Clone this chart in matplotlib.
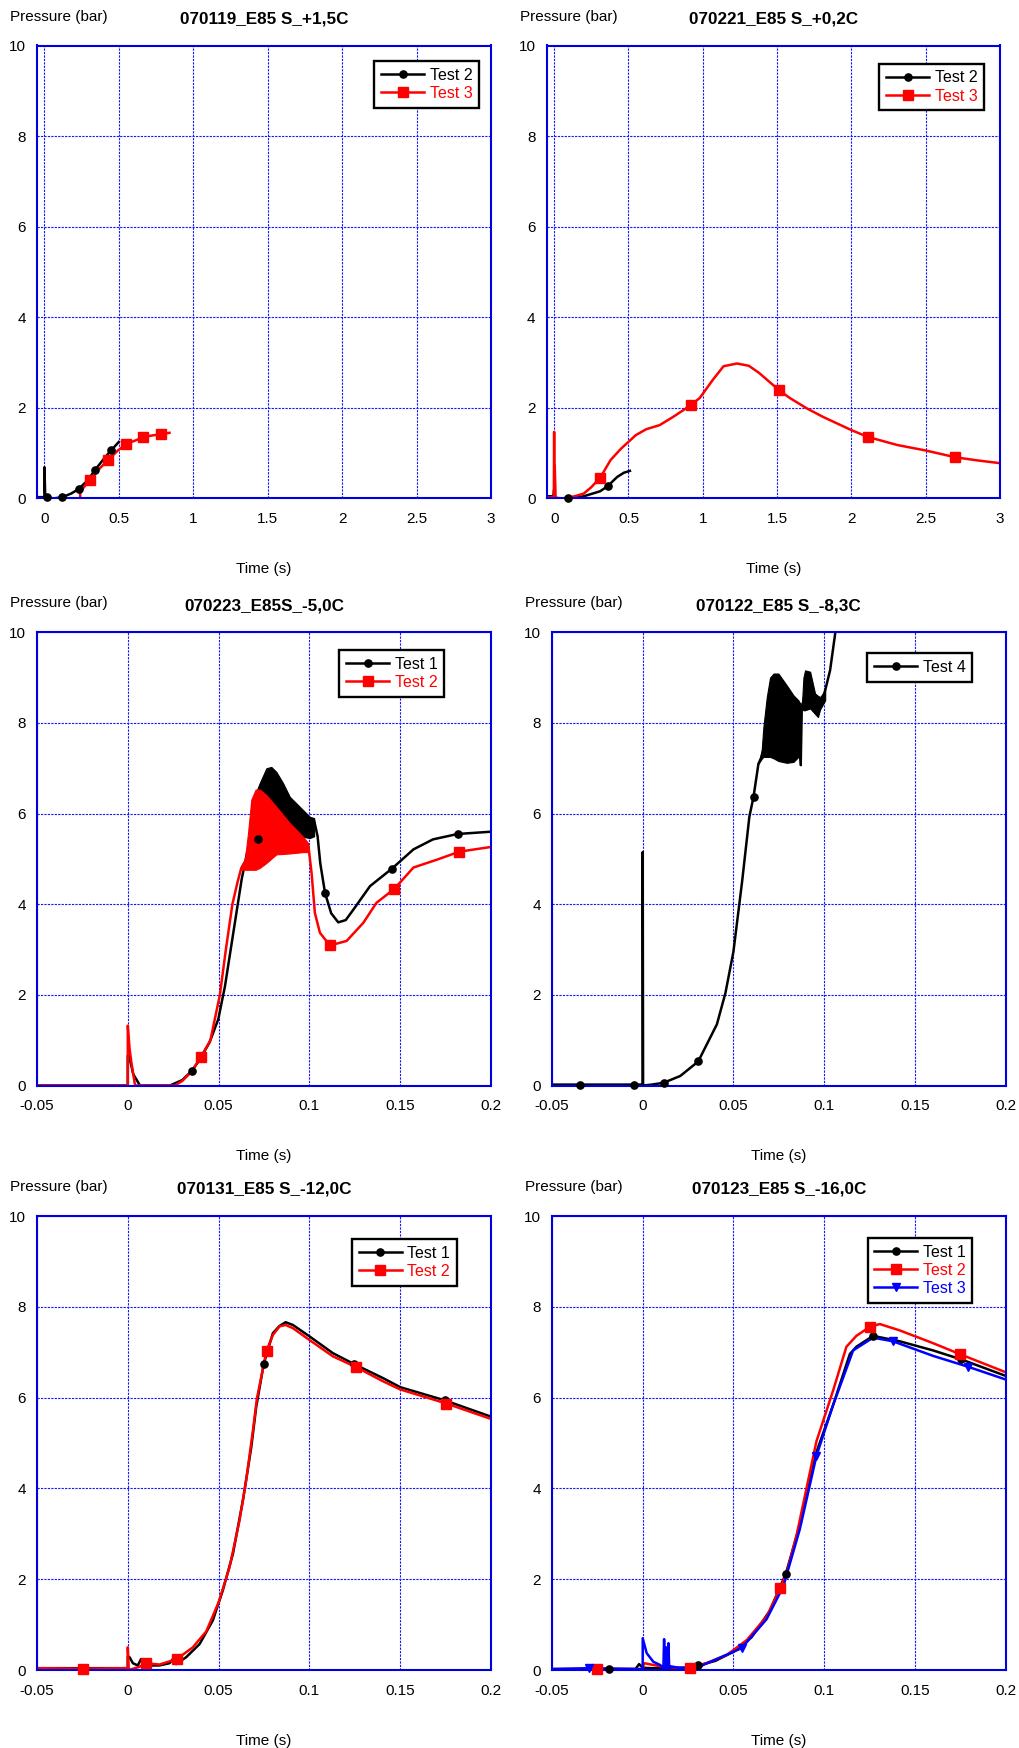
import matplotlib
matplotlib.use('Agg')
import matplotlib.pyplot as plt
from matplotlib.lines import Line2D

plt.rcParams['font.family'] = ['Liberation Sans', 'DejaVu Sans']

BLACK = '#000000'
RED = '#ff0000'
BLUE = '#0000ff'

# ---- 070119_E85 S_+1,5C ----
t119_2 = [-0.05, 0.0, 0.0, 0.005, 0.015, 0.06, 0.12, 0.18, 0.23, 0.29, 0.34, 0.40, 0.45, 0.50]
p119_2 = [0.03, 0.03, 0.69, 0.08, 0.04, 0.0, 0.03, 0.11, 0.21, 0.40, 0.63, 0.88, 1.07, 1.25]
m119_2 = [0.015, 0.12, 0.23, 0.34, 0.45]
t119_3 = [0.24, 0.24, 0.306, 0.37, 0.428, 0.49, 0.547, 0.61, 0.663, 0.72, 0.785, 0.84]
p119_3 = [0.0, 0.15, 0.41, 0.66, 0.85, 1.05, 1.2, 1.28, 1.35, 1.39, 1.42, 1.45]
m119_3 = [0.306, 0.428, 0.547, 0.663, 0.785]

# ---- 070221_E85 S_+0,2C ----
t221_2 = [-0.05, -0.005, 0.0, 0.002, 0.01, 0.05, 0.094, 0.15, 0.2, 0.25, 0.31, 0.363, 0.40, 0.426, 0.47, 0.51]
p221_2 = [0.05, 0.05, 0.2, 0.03, 0.0, 0.0, 0.0, 0.02, 0.05, 0.1, 0.16, 0.28, 0.4, 0.48, 0.57, 0.61]
m221_2 = [0.094, 0.363]
t221_3 = [-0.05, -0.002, 0.0, 0.002, 0.004, 0.01, 0.05, 0.1, 0.15, 0.2, 0.25, 0.31, 0.38, 0.45, 0.55,
          0.62, 0.71, 0.8, 0.92, 0.98, 1.07, 1.14, 1.23, 1.31, 1.38, 1.51, 1.585, 1.7, 1.81, 2.0,
          2.11, 2.31, 2.5, 2.7, 2.85, 3.0]
p221_3 = [0.03, 0.03, 1.47, 0.1, 0.72, 0.02, 0.0, 0.02, 0.06, 0.11, 0.25, 0.46, 0.85, 1.1, 1.4,
          1.53, 1.62, 1.8, 2.06, 2.22, 2.63, 2.92, 2.98, 2.93, 2.77, 2.40, 2.22, 1.99, 1.80, 1.51,
          1.36, 1.18, 1.06, 0.91, 0.84, 0.78]
m221_3 = [0.31, 0.92, 1.51, 2.11, 2.7]

# ---- 070223_E85S_-5,0C ----
t223_1 = [-0.05, 0.0, 0.0, 0.0007, 0.003, 0.0067, 0.015, 0.0232, 0.03, 0.0352, 0.0396, 0.045, 0.0498,
          0.0535, 0.0581, 0.0627, 0.066, 0.0719, 0.08, 0.09, 0.1, 0.1026, 0.1045, 0.106, 0.1086,
          0.112, 0.1159, 0.12, 0.1242, 0.1334, 0.1453, 0.1573, 0.168, 0.1816, 0.2]
p223_1 = [0.0, 0.0, 0.66, 0.66, 0.25, 0.0, 0.0, 0.0, 0.12, 0.32, 0.57, 0.95, 1.46,
          2.19, 3.37, 4.55, 5.2, 5.43, 5.6, 5.6, 5.6, 5.85, 5.5, 4.9, 4.25,
          3.8, 3.6, 3.65, 3.88, 4.40, 4.78, 5.21, 5.43, 5.55, 5.60]
m223_1 = [0.0352, 0.0719, 0.1086, 0.1453, 0.1816]
# pressure oscillation envelope, Test 1
tb223_1 = [0.068, 0.0726, 0.0763, 0.079, 0.0818, 0.0855, 0.0892, 0.0947, 0.1002, 0.1026]
hi223_1 = [6.2, 6.67, 7.0, 7.03, 6.92, 6.67, 6.37, 6.15, 5.93, 5.9]
lo223_1 = [5.3, 5.4, 5.45, 5.5, 5.5, 5.5, 5.5, 5.5, 5.46, 5.5]

t223_2 = [-0.05, 0.0, 0.0, 0.001, 0.002, 0.004, 0.015, 0.0259, 0.03, 0.035, 0.0403, 0.0455, 0.0507,
          0.054, 0.0576, 0.0605, 0.0625, 0.07, 0.08, 0.09, 0.0994, 0.1012, 0.103, 0.1058, 0.1113,
          0.1205, 0.1297, 0.1369, 0.1468, 0.1573, 0.17, 0.1826, 0.1994]
p223_2 = [0.0, 0.0, 1.32, 0.8, 0.5, 0.0, 0.0, 0.0, 0.1, 0.3, 0.63, 1.0, 2.0,
          3.0, 4.0, 4.5, 4.8, 5.3, 5.4, 5.3, 5.3, 4.69, 3.81, 3.37, 3.09,
          3.19, 3.59, 4.03, 4.34, 4.81, 4.98, 5.16, 5.26]
m223_2 = [0.0403, 0.1113, 0.1468, 0.1826]
# pressure oscillation envelope, Test 2
tb223_2 = [0.0625, 0.0645, 0.0662, 0.068, 0.0704, 0.0726, 0.0763, 0.0818, 0.0892, 0.0965, 0.0993]
hi223_2 = [4.85, 5.0, 5.57, 6.31, 6.53, 6.53, 6.41, 6.15, 5.79, 5.49, 5.35]
lo223_2 = [4.76, 4.76, 4.76, 4.76, 4.76, 4.8, 4.91, 5.1, 5.12, 5.15, 5.15]

# ---- 070122_E85 S_-8,3C ----
t122_4 = [-0.05, -0.0348, -0.0047, 0.0, 0.0, 0.0002, 0.005, 0.0115, 0.0207, 0.0306, 0.0409, 0.0456,
          0.05, 0.0548, 0.0588, 0.0611, 0.0638, 0.0656, 0.07, 0.08, 0.086, 0.0871, 0.0877, 0.09,
          0.095, 0.0978, 0.1006, 0.1033, 0.1061, 0.108]
p122_4 = [0.02, 0.02, 0.02, 0.02, 5.15, 0.0, 0.02, 0.06, 0.21, 0.53, 1.35, 2.04,
          2.95, 4.5, 5.93, 6.37, 7.1, 7.25, 8.0, 8.0, 7.8, 7.07, 8.35, 8.7,
          8.4, 8.35, 8.72, 9.16, 9.97, 10.6]
m122_4 = [-0.0348, -0.0047, 0.0115, 0.0306, 0.0611]
tb122_a = [0.0638, 0.0656, 0.0665, 0.0684, 0.0702, 0.0721, 0.0748, 0.0794, 0.0831, 0.0858, 0.0868, 0.0871]
hi122_a = [7.1, 7.4, 7.9, 8.57, 9.0, 9.09, 9.09, 8.83, 8.61, 8.5, 8.43, 8.43]
lo122_a = [7.1, 7.21, 7.25, 7.25, 7.25, 7.22, 7.16, 7.12, 7.14, 7.25, 7.2, 7.07]
tb122_b = [0.0877, 0.0886, 0.0895, 0.0923, 0.095, 0.0966, 0.0978, 0.1006]
hi122_b = [8.35, 9.0, 9.16, 9.13, 8.65, 8.6, 8.57, 8.72]
lo122_b = [8.3, 8.28, 8.28, 8.32, 8.2, 8.13, 8.3, 8.5]

# ---- 070131_E85 S_-12,0C ----
t131_1 = [-0.05, -0.025, 0.0, 0.0, 0.001, 0.0028, 0.0055, 0.0073, 0.0101, 0.0174, 0.023, 0.0248,
          0.0266, 0.0321, 0.0395, 0.0468, 0.0523, 0.0579, 0.0634, 0.068, 0.0707, 0.0749, 0.0799,
          0.0836, 0.0869, 0.0909, 0.1, 0.1129, 0.1245, 0.1405, 0.15, 0.1745, 0.2]
p131_1 = [0.04, 0.04, 0.04, 0.3, 0.28, 0.15, 0.1, 0.24, 0.1, 0.1, 0.15, 0.24,
          0.13, 0.28, 0.57, 1.09, 1.75, 2.56, 3.74, 4.91, 5.79, 6.75, 7.42,
          7.58, 7.66, 7.60, 7.35, 6.98, 6.74, 6.43, 6.23, 5.94, 5.58]
m131_1 = [-0.025, 0.0749, 0.1245, 0.1745]
t131_2 = [-0.05, -0.0248, 0.0, 0.0, 0.0005, 0.0064, 0.0101, 0.0174, 0.027, 0.0358, 0.0432, 0.05,
          0.056, 0.0615, 0.0652, 0.0689, 0.0711, 0.0764, 0.0799, 0.0836, 0.0869, 0.0909, 0.1,
          0.1129, 0.1258, 0.1405, 0.15, 0.1754, 0.2]
p131_2 = [0.04, 0.03, 0.04, 0.5, 0.0, 0.07, 0.15, 0.12, 0.24, 0.5, 0.85, 1.49,
          2.26, 3.29, 4.18, 5.28, 5.98, 7.03, 7.38, 7.57, 7.6, 7.53, 7.27,
          6.91, 6.67, 6.36, 6.18, 5.87, 5.53]
m131_2 = [-0.0248, 0.0101, 0.027, 0.0764, 0.1258, 0.1754]

# ---- 070123_E85 S_-16,0C ----
t123_1 = [-0.05, -0.0184, -0.004, -0.002, 0.0, 0.005, 0.015, 0.025, 0.0307, 0.04, 0.05, 0.06, 0.07,
          0.0789, 0.0866, 0.0958, 0.105, 0.1142, 0.1178, 0.127, 0.1417, 0.16, 0.1757, 0.2]
p123_1 = [0.02, 0.02, 0.02, 0.13, 0.05, 0.04, 0.04, 0.05, 0.1, 0.2, 0.4, 0.72, 1.3,
          2.12, 3.2, 4.8, 5.84, 6.96, 7.12, 7.36, 7.24, 7.04, 6.84, 6.48]
m123_1 = [-0.0184, 0.0307, 0.0789, 0.127, 0.1757]
t123_2 = [-0.05, -0.025, 0.0, 0.0007, 0.0114, 0.02, 0.0261, 0.035, 0.0463, 0.0574, 0.0684, 0.0757,
          0.0794, 0.085, 0.0958, 0.105, 0.1123, 0.1178, 0.1252, 0.1307, 0.1417, 0.16, 0.1747, 0.2]
p123_2 = [0.02, 0.02, 0.02, 0.15, 0.07, 0.05, 0.04, 0.15, 0.33, 0.66, 1.18, 1.80,
          2.13, 3.0, 5.04, 6.16, 7.12, 7.36, 7.56, 7.62, 7.48, 7.2, 6.96, 6.56]
m123_2 = [-0.025, 0.0261, 0.0757, 0.1252, 0.1747]
t123_3 = [-0.05, -0.0294, 0.0, 0.0, 0.0022, 0.0059, 0.0096, 0.0114, 0.0118, 0.0122, 0.0128, 0.0134,
          0.0142, 0.0146, 0.0155, 0.02, 0.025, 0.0316, 0.0545, 0.0683, 0.0775, 0.0866, 0.0958,
          0.105, 0.116, 0.127, 0.138, 0.16, 0.1793, 0.2]
p123_3 = [0.02, 0.04, 0.02, 0.70, 0.37, 0.18, 0.11, 0.05, 0.68, 0.05, 0.5, 0.05,
          0.59, 0.05, 0.08, 0.05, 0.05, 0.08, 0.48, 1.12, 1.84, 3.1, 4.72,
          5.84, 7.04, 7.32, 7.24, 6.92, 6.68, 6.4]
m123_3 = [-0.0294, 0.0545, 0.0958, 0.138, 0.1793]

long_ticks = [0, 0.5, 1, 1.5, 2, 2.5, 3]
long_labels = ['0', '0.5', '1', '1.5', '2', '2.5', '3']
short_ticks = [-0.05, 0, 0.05, 0.1, 0.15, 0.2]
short_labels = ['-0.05', '0', '0.05', '0.1', '0.15', '0.2']
y_ticks = [0, 2, 4, 6, 8, 10]
y_labels = ['0', '2', '4', '6', '8', '10']

MARKERS = {BLACK: ('o', 5.2), RED: ('s', 6.5), BLUE: ('v', 5.8)}
LW = 1.8

W, H = 1019, 1748
fig = plt.figure(figsize=(W / 100, H / 100), dpi=100)


def make_axes(x0, x1, y0, y1):
    return fig.add_axes([x0 / W, 1 - y1 / H, (x1 - x0) / W, (y1 - y0) / H])


def setup(ax, title, xlim, ticks, labels):
    ax.set_xlim(*xlim)
    ax.set_ylim(0, 10)
    ax.set_xticks(ticks, labels)
    ax.set_yticks(y_ticks, y_labels)
    ax.tick_params(length=0, labelsize=11)
    ax.tick_params(axis='x', pad=10)
    ax.tick_params(axis='y', pad=8)
    ax.grid(True, color='#1414ff', lw=0.8, dashes=(2.0, 1.1))
    for sp in ax.spines.values():
        sp.set_color('#0000e0')
        sp.set_linewidth(1.5)
    ax.text(0.5, 1.049, title, transform=ax.transAxes, ha='center', va='baseline',
            fontsize=12.3, fontweight='bold')
    ax.text(-0.06, 1.055, 'Pressure (bar)', transform=ax.transAxes, ha='left',
            va='baseline', fontsize=11)
    ax.text(0.5, -0.165, 'Time (s)', transform=ax.transAxes, ha='center',
            va='baseline', fontsize=11)


def series(ax, t, p, marks, color, label):
    ax.plot(t, p, color=color, lw=LW, zorder=2)
    idx = [t.index(m) for m in marks]
    mk, ms = MARKERS[color]
    ax.plot([t[i] for i in idx], [p[i] for i in idx], ls='none', marker=mk, ms=ms,
            color=color, zorder=4, clip_on=False)
    return Line2D([], [], color=color, lw=LW, marker=mk, ms=ms, label=label)


def band(ax, t, lo, hi, color):
    ax.fill_between(t, lo, hi, color=color, lw=0.8, zorder=2)


def legend(ax, handles, rx, ty):
    leg = ax.legend(handles=handles, loc='upper right', bbox_to_anchor=(rx, ty),
                    borderaxespad=0, fancybox=False, framealpha=1, edgecolor='black',
                    fontsize=11.5, handlelength=2.7, handletextpad=0.35, borderpad=0.42,
                    labelspacing=0.2, labelcolor='linecolor', numpoints=1)
    leg.get_frame().set_linewidth(1.7)
    leg.set_zorder(10)


# top row
ax = make_axes(37, 491, 45.5, 498.5)
setup(ax, '070119_E85 S_+1,5C', (-0.05, 3), long_ticks, long_labels)
h = [series(ax, t119_2, p119_2, m119_2, BLACK, 'Test 2'),
     series(ax, t119_3, p119_3, m119_3, RED, 'Test 3')]
legend(ax, h, 0.974, 0.966)

ax = make_axes(546.7, 1000, 45.5, 498.5)
setup(ax, '070221_E85 S_+0,2C', (-0.05, 3), long_ticks, long_labels)
h = [series(ax, t221_2, p221_2, m221_2, BLACK, 'Test 2'),
     series(ax, t221_3, p221_3, m221_3, RED, 'Test 3')]
legend(ax, h, 0.965, 0.960)

# middle row
ax = make_axes(37, 491, 632.3, 1085.5)
setup(ax, '070223_E85S_-5,0C', (-0.05, 0.2), short_ticks, short_labels)
band(ax, tb223_1, lo223_1, hi223_1, BLACK)
h1 = series(ax, t223_1, p223_1, m223_1, BLACK, 'Test 1')
band(ax, tb223_2, lo223_2, hi223_2, RED)
h2 = series(ax, t223_2, p223_2, m223_2, RED, 'Test 2')
legend(ax, [h1, h2], 0.897, 0.961)

ax = make_axes(552, 1005.5, 632.3, 1085.5)
setup(ax, '070122_E85 S_-8,3C', (-0.05, 0.2), short_ticks, short_labels)
band(ax, tb122_a, lo122_a, hi122_a, BLACK)
band(ax, tb122_b, lo122_b, hi122_b, BLACK)
h = [series(ax, t122_4, p122_4, m122_4, BLACK, 'Test 4')]
legend(ax, h, 0.927, 0.954)

# bottom row
ax = make_axes(37, 491, 1216, 1670)
setup(ax, '070131_E85 S_-12,0C', (-0.05, 0.2), short_ticks, short_labels)
h = [series(ax, t131_1, p131_1, m131_1, BLACK, 'Test 1'),
     series(ax, t131_2, p131_2, m131_2, RED, 'Test 2')]
legend(ax, h, 0.925, 0.949)

ax = make_axes(552, 1005.5, 1216, 1670)
setup(ax, '070123_E85 S_-16,0C', (-0.05, 0.2), short_ticks, short_labels)
h = [series(ax, t123_1, p123_1, m123_1, BLACK, 'Test 1'),
     series(ax, t123_2, p123_2, m123_2, RED, 'Test 2'),
     series(ax, t123_3, p123_3, m123_3, BLUE, 'Test 3')]
legend(ax, h, 0.927, 0.952)

fig.savefig('out.png', dpi=100)
